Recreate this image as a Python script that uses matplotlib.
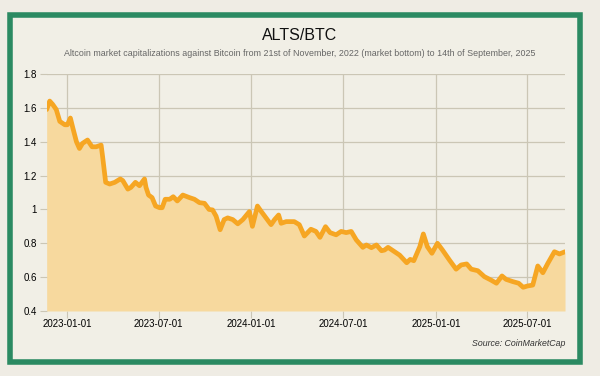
import matplotlib
matplotlib.use("Agg")
import matplotlib.pyplot as plt
import matplotlib.dates as mdates
from matplotlib.patches import Rectangle
import pandas as pd

plt.rcParams['font.family'] = ['Liberation Sans', 'DejaVu Sans']

# ALTS/BTC ratio
dates = [
    "2022-11-21", "2022-11-27", "2022-12-03", "2022-12-10", "2022-12-17", "2022-12-27",
    "2023-01-01", "2023-01-07", "2023-01-12", "2023-01-19", "2023-01-25", "2023-01-31",
    "2023-02-10", "2023-02-19", "2023-02-27", "2023-03-09", "2023-03-12", "2023-03-18",
    "2023-03-26", "2023-04-05", "2023-04-16", "2023-04-21", "2023-05-01", "2023-05-07",
    "2023-05-16", "2023-05-24", "2023-06-03", "2023-06-06", "2023-06-11", "2023-06-18",
    "2023-06-25", "2023-07-03", "2023-07-08", "2023-07-14", "2023-07-23", "2023-07-30",
    "2023-08-07", "2023-08-18", "2023-08-31", "2023-09-10", "2023-09-20", "2023-09-30",
    "2023-10-09", "2023-10-16", "2023-10-23", "2023-10-31", "2023-11-08", "2023-11-15",
    "2023-11-25", "2023-12-05", "2023-12-15", "2023-12-28", "2024-01-03", "2024-01-13",
    "2024-01-20", "2024-01-30", "2024-02-09", "2024-02-16", "2024-02-24", "2024-02-29",
    "2024-03-10", "2024-03-26", "2024-04-05", "2024-04-15", "2024-04-28", "2024-05-08",
    "2024-05-16", "2024-05-27", "2024-06-05", "2024-06-17", "2024-06-27", "2024-07-07",
    "2024-07-17", "2024-07-27", "2024-08-09", "2024-08-16", "2024-08-26", "2024-09-05",
    "2024-09-15", "2024-09-21", "2024-09-28", "2024-10-11", "2024-10-21", "2024-11-04",
    "2024-11-11", "2024-11-18", "2024-11-30", "2024-12-07", "2024-12-15", "2024-12-24",
    "2025-01-04", "2025-01-14", "2025-01-28", "2025-02-10", "2025-02-20", "2025-03-03",
    "2025-03-12", "2025-03-25", "2025-04-07", "2025-04-20", "2025-05-01", "2025-05-12",
    "2025-05-20", "2025-06-02", "2025-06-14", "2025-06-23", "2025-07-02", "2025-07-12",
    "2025-07-22", "2025-08-01", "2025-08-11", "2025-08-24", "2025-09-03", "2025-09-14",
]
ratio = [
    1.59, 1.64, 1.62, 1.59, 1.52, 1.50,
    1.50, 1.54, 1.48, 1.40, 1.36, 1.39,
    1.41, 1.37, 1.37, 1.38, 1.31, 1.16,
    1.15, 1.16, 1.18, 1.17, 1.12, 1.13,
    1.16, 1.14, 1.18, 1.13, 1.085, 1.07,
    1.02, 1.01, 1.01, 1.06, 1.06, 1.075,
    1.05, 1.085, 1.07, 1.06, 1.04, 1.036,
    1.00, 0.997, 0.96, 0.88, 0.94, 0.95,
    0.94, 0.915, 0.94, 0.987, 0.90, 1.02,
    0.99, 0.95, 0.91, 0.94, 0.967, 0.918,
    0.928, 0.928, 0.91, 0.843, 0.883, 0.87,
    0.835, 0.898, 0.863, 0.85, 0.87, 0.863,
    0.87, 0.82, 0.776, 0.79, 0.774, 0.79,
    0.756, 0.76, 0.776, 0.75, 0.73, 0.685,
    0.705, 0.697, 0.78, 0.855, 0.78, 0.741,
    0.80, 0.76, 0.70, 0.647, 0.672, 0.678,
    0.647, 0.638, 0.603, 0.583, 0.564, 0.607,
    0.587, 0.574, 0.564, 0.54, 0.548, 0.553,
    0.666, 0.626, 0.682, 0.75, 0.737, 0.75,
]
x_ticks = ["2023-01-01", "2023-07-01", "2024-01-01", "2024-07-01", "2025-01-01", "2025-07-01"]
y_ticks = [0.4, 0.6, 0.8, 1.0, 1.2, 1.4, 1.6, 1.8]
y_tick_labels = ["0.4", "0.6", "0.8", "1", "1.2", "1.4", "1.6", "1.8"]

BG = '#f1efe6'
GRID = '#cbc6b5'
LINE = '#f6a623'
FILL = '#f7d99e'

x = pd.to_datetime(dates)

fig = plt.figure(figsize=(6, 3.76), dpi=100, facecolor='#efece4')
ax = fig.add_axes([0.0778, 0.1729, 0.8639, 0.6303])
ax.set_facecolor(BG)

# green frame around the card
fig.patches.append(Rectangle((10.4 / 600, 1 - 362.2 / 376), 569.3 / 600, 346.8 / 376,
                             transform=fig.transFigure, facecolor=BG, edgecolor='#2b8a62',
                             linewidth=4.0, zorder=-1))

ax.fill_between(x, 0.4, ratio, color=FILL, linewidth=0, zorder=2)
ax.plot(x, ratio, color=LINE, linewidth=3.4, solid_joinstyle='round', solid_capstyle='round', zorder=3)

ax.set_xlim(x[0], x[-1])
ax.set_ylim(0.4, 1.8)
ax.set_xticks(pd.to_datetime(x_ticks))
ax.xaxis.set_major_formatter(mdates.DateFormatter('%Y-%m-%d'))
ax.set_yticks(y_ticks)
ax.set_yticklabels(y_tick_labels)

ax.grid(True, color=GRID, linewidth=0.9, zorder=1)
ax.set_axisbelow(True)
for side in ax.spines.values():
    side.set_visible(False)
ax.tick_params(axis='x', length=5, color=GRID, labelsize=7, pad=1)
ax.tick_params(axis='y', length=5, color=GRID, labelsize=7, pad=2)

fig.text(0.5, 1 - 36 / 376, 'ALTS/BTC', ha='center', va='center', fontsize=11.5, color='#111111')
fig.text(0.5, 1 - 53 / 376,
         'Altcoin market capitalizations against Bitcoin from 21st of November, 2022 '
         '(market bottom) to 14th of September, 2025',
         ha='center', va='center', fontsize=6.4, color='#666666')
fig.text(565 / 600, 1 - 344 / 376, 'Source: CoinMarketCap', ha='right', va='center',
         fontsize=6.3, style='italic', color='#333333')

plt.savefig('out.png', dpi=100, facecolor=fig.get_facecolor())
